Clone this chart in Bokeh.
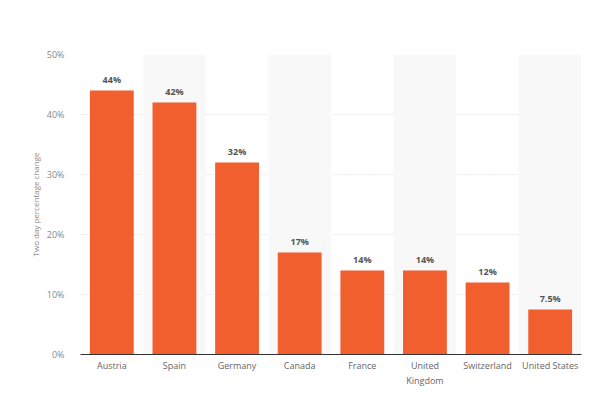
from bokeh.plotting import figure
from bokeh.models import ColumnDataSource, LabelSet, FactorRange, Range1d, PrintfTickFormatter, FixedTicker
from bokeh.core.properties import value
from bokeh.embed import file_html
from bokeh.resources import INLINE

countries = ["Austria", "Spain", "Germany", "Canada", "France", "United\nKingdom", "Switzerland", "United States"]
values = [44, 42, 32, 17, 14, 14, 12, 7.5]
labels = ["44%", "42%", "32%", "17%", "14%", "14%", "12%", "7.5%"]
band_countries = [countries[i] for i in range(1, len(countries), 2)]
y_ticks = [0, 10, 20, 30, 40, 50]

FONT = "Open Sans"

p = figure(x_range=FactorRange(*countries), y_range=Range1d(0, 50),
           frame_width=501, frame_height=300, output_backend="svg", toolbar_location=None,
           min_border_left=80, min_border_right=8, min_border_top=54, min_border_bottom=30)
p.outline_line_color = None
p.background_fill_color = "white"
p.border_fill_color = "white"

# alternating background bands
p.vbar(x=band_countries, top=[50] * len(band_countries), bottom=0, width=1.0,
       fill_color="#f8f8f8", line_color=None)

src = ColumnDataSource(dict(x=countries, top=values, label=labels))
p.vbar(x="x", top="top", width=0.7, source=src, fill_color="#f15f2e", line_color=None)

lab = LabelSet(x="x", y="top", text="label", source=src, x_offset=0, y_offset=5,
               text_align="center", text_baseline="bottom", text_font_size="9px",
               text_font_style="bold", text_color="#555555", text_font=value(FONT))
p.add_layout(lab)

p.xgrid.grid_line_color = None
p.ygrid.grid_line_color = "#d8d8d8"
p.ygrid.grid_line_dash = "1 2"
p.ygrid.ticker = FixedTicker(ticks=y_ticks)

p.yaxis.ticker = FixedTicker(ticks=y_ticks)
p.yaxis.formatter = PrintfTickFormatter(format="%d%%")
p.yaxis.axis_line_color = None
p.yaxis.major_tick_line_color = None
p.yaxis.minor_tick_line_color = None
p.yaxis.major_label_text_font_size = "9px"
p.yaxis.major_label_text_color = "#888888"
p.yaxis.major_label_text_font = FONT
p.yaxis.major_label_standoff = 10
p.yaxis.axis_label = "Two day percentage change"
p.yaxis.axis_label_text_font_size = "8px"
p.yaxis.axis_label_text_font_style = "normal"
p.yaxis.axis_label_text_color = "#888888"
p.yaxis.axis_label_text_font = FONT
p.yaxis.axis_label_standoff = 3

p.xaxis.axis_line_color = "#333333"
p.xaxis.axis_line_width = 1
p.xaxis.major_tick_line_color = None
p.xaxis.minor_tick_line_color = None
p.xaxis.major_label_text_font_size = "9px"
p.xaxis.major_label_text_color = "#666666"
p.xaxis.major_label_text_font = FONT
p.xaxis.major_label_standoff = -2
p.x_range.range_padding = 0
p.x_range.group_padding = 0

open("out.html", "w").write(file_html(p, INLINE))
